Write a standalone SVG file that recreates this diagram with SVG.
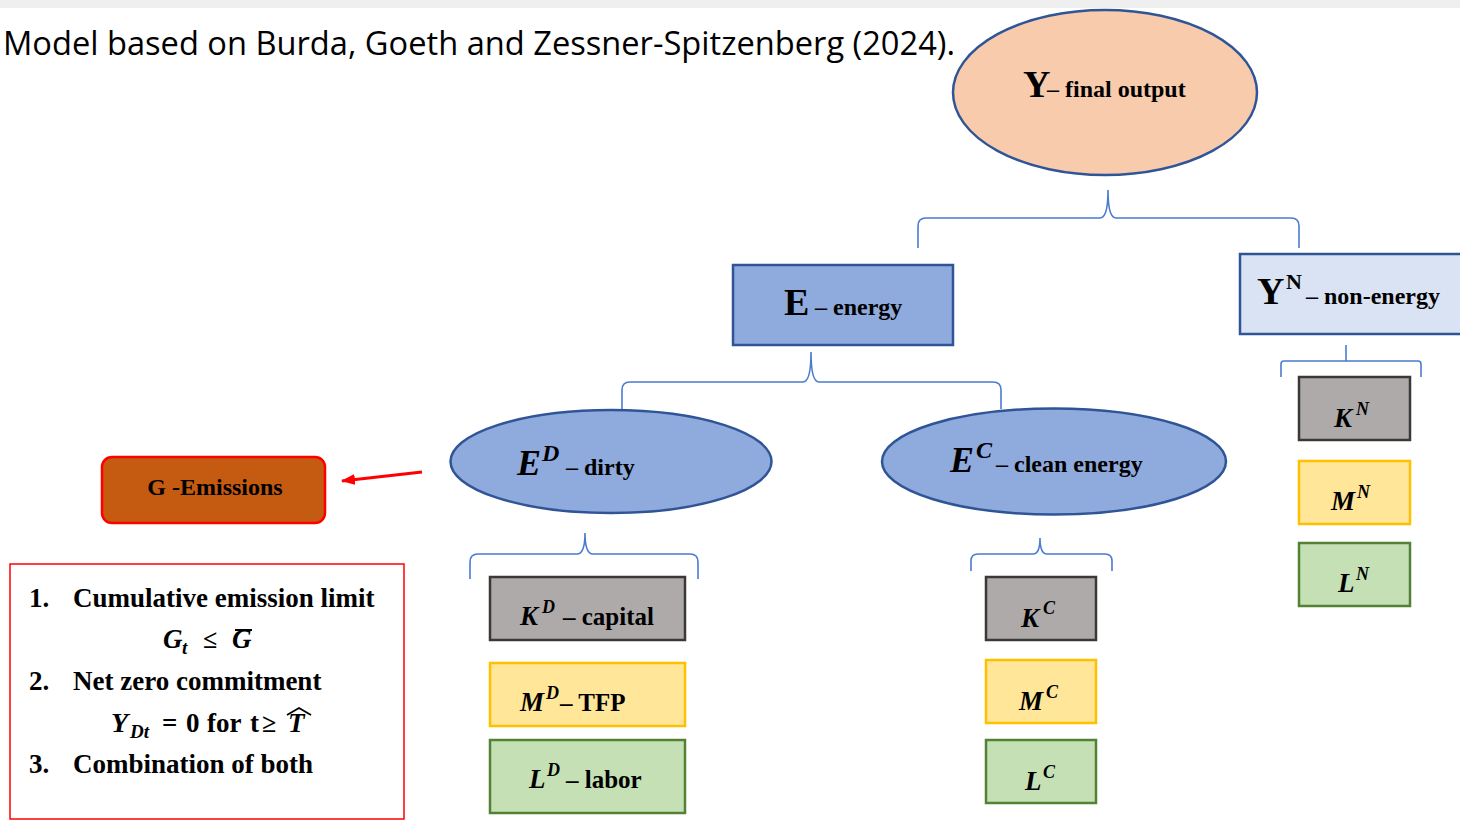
<svg xmlns="http://www.w3.org/2000/svg" width="1460" height="833" viewBox="0 0 1460 833">
<defs>
<style>
.t{font-family:"Liberation Serif","Times New Roman",serif;font-weight:bold;fill:#000}
.i{font-style:italic}
.brace{fill:none;stroke:#4a7bd0;stroke-width:1.6}
.blue{stroke:#2f5597;stroke-width:2.5}
.k{fill:#aeaaaa;stroke:#3b3838;stroke-width:2.5}
.m{fill:#ffe699;stroke:#ffc000;stroke-width:2.5}
.l{fill:#c5e0b4;stroke:#538135;stroke-width:2.5}
</style>
<marker id="ah" markerWidth="14" markerHeight="11" refX="13" refY="5.5" orient="auto" markerUnits="userSpaceOnUse">
<path d="M0,0 L14,5.5 L0,11 z" fill="#ff0000"/>
</marker>
</defs>
<rect x="0" y="0" width="1460" height="833" fill="#ffffff"/>
<rect x="0" y="0" width="1460" height="8" fill="#efefef"/>
<text x="3" y="55" font-family="Open Sans, sans-serif" font-size="32" textLength="952" lengthAdjust="spacingAndGlyphs" fill="#000">Model based on Burda, Goeth and Zessner-Spitzenberg (2024).</text>

<g id="connectors">
<path class="brace" d="M918 248 L918 226 Q918 218 926 218 L1100 218 Q1108 218 1108 190 Q1108 218 1116 218 L1291 218 Q1299 218 1299 226 L1299 248"/>
<path class="brace" d="M622 411 L622 390 Q622 382 630 382 L803 382 Q811 382 811 352 Q811 382 819 382 L993 382 Q1001 382 1001 390 L1001 409"/>
<path class="brace" d="M470 579 L470 562 Q470 554 478 554 L577 554 Q585 554 585 533 Q585 554 593 554 L690 554 Q698 554 698 562 L698 579"/>
<path class="brace" d="M971 571 L971 561 Q971 554 978 554 L1033 554 Q1040 554 1040 538 Q1040 554 1047 554 L1105 554 Q1112 554 1112 561 L1112 571"/>
<path class="brace" d="M1346 345 L1346 361 M1281 377 L1281 364 Q1281 361 1284 361 L1418 361 Q1421 361 1421 364 L1421 377"/>
<line x1="422" y1="472" x2="342" y2="481" stroke="#ff0000" stroke-width="3" marker-end="url(#ah)"/>
</g>

<g id="node-Y">
<ellipse cx="1105" cy="92.5" rx="152" ry="82.5" fill="#f8cbad" class="blue"/>
<text class="t" x="1023" y="97" font-size="38">Y</text>
<text class="t" x="1047" y="97" font-size="24">– final output</text>
</g>

<g id="node-E">
<rect x="733" y="265" width="220" height="80" fill="#8faadc" class="blue"/>
<text class="t" x="784" y="315" font-size="38">E</text>
<text class="t" x="815" y="315" font-size="24">– energy</text>
</g>

<g id="node-YN">
<rect x="1240" y="254" width="225" height="80" fill="#dae3f3" class="blue"/>
<text class="t" x="1257" y="304" font-size="38">Y</text>
<text class="t" x="1286" y="289" font-size="22">N</text>
<text class="t" x="1306" y="304" font-size="24">– non-energy</text>
</g>

<g id="node-ED">
<ellipse cx="611" cy="461.5" rx="160.5" ry="51.5" fill="#8faadc" class="blue"/>
<text class="t i" x="517" y="475" font-size="36">E</text>
<text class="t i" x="542" y="461" font-size="24">D</text>
<text class="t" x="566" y="475" font-size="24">– dirty</text>
</g>

<g id="node-EC">
<ellipse cx="1054" cy="461.5" rx="172" ry="53" fill="#8faadc" class="blue"/>
<text class="t i" x="950" y="472" font-size="36">E</text>
<text class="t i" x="976" y="458" font-size="24">C</text>
<text class="t" x="996" y="472" font-size="24">– clean energy</text>
</g>

<g id="node-G">
<rect x="102" y="457" width="223" height="66" rx="10" fill="#c55a11" stroke="#ff0000" stroke-width="2.5"/>
<text class="t" x="215" y="495" font-size="24" text-anchor="middle">G -Emissions</text>
</g>

<g id="node-constraints">
<rect x="10" y="564" width="394" height="255" fill="none" stroke="#ff0000" stroke-width="1.5"/>
<text class="t" y="607" font-size="27"><tspan x="29">1.</tspan><tspan x="73">Cumulative emission limit</tspan></text>
<text class="t i" x="163" y="648" font-size="27">G</text>
<text class="t i" x="182" y="654" font-size="19">t</text>
<text class="t" x="203" y="648" font-size="26">≤</text>
<text class="t i" x="232" y="648" font-size="27">G</text>
<line x1="235" y1="630" x2="252" y2="630" stroke="#000" stroke-width="2"/>
<text class="t" y="690" font-size="27"><tspan x="29">2.</tspan><tspan x="73">Net zero commitment</tspan></text>
<text class="t i" x="111" y="732" font-size="28">Y</text>
<text class="t i" x="130" y="738" font-size="19">Dt</text>
<text class="t" x="162" y="732" font-size="27">=</text>
<text class="t" x="186" y="732" font-size="27">0</text>
<text class="t" x="207" y="732" font-size="27">for</text>
<text class="t" x="250" y="732" font-size="27">t</text>
<text class="t" x="262" y="732" font-size="26">≥</text>
<text class="t i" x="288" y="732" font-size="27">T</text>
<polyline points="287,715 299,708 311,715" fill="none" stroke="#000" stroke-width="1.8"/>
<text class="t" y="773" font-size="27"><tspan x="29">3.</tspan><tspan x="73">Combination of both</tspan></text>
</g>

<g id="node-KD">
<rect x="490" y="577" width="195" height="63" class="k"/>
<text class="t i" x="520" y="625" font-size="27">K</text>
<text class="t i" x="542" y="613" font-size="18">D</text>
<text class="t" x="563" y="625" font-size="25">– capital</text>
</g>
<g id="node-MD">
<rect x="490" y="663" width="195" height="63" class="m"/>
<text class="t i" x="520" y="711" font-size="27">M</text>
<text class="t i" x="546" y="699" font-size="18">D</text>
<text class="t" x="560" y="711" font-size="25">– TFP</text>
</g>
<g id="node-LD">
<rect x="490" y="740" width="195" height="73" class="l"/>
<text class="t i" x="529" y="788" font-size="27">L</text>
<text class="t i" x="547" y="776" font-size="18">D</text>
<text class="t" x="566" y="788" font-size="25">– labor</text>
</g>

<g id="node-KC">
<rect x="986" y="577" width="110" height="63" class="k"/>
<text class="t i" x="1021" y="627" font-size="27">K</text>
<text class="t i" x="1043" y="614" font-size="18">C</text>
</g>
<g id="node-MC">
<rect x="986" y="660" width="110" height="63" class="m"/>
<text class="t i" x="1019" y="710" font-size="27">M</text>
<text class="t i" x="1046" y="698" font-size="18">C</text>
</g>
<g id="node-LC">
<rect x="986" y="740" width="110" height="63" class="l"/>
<text class="t i" x="1025" y="790" font-size="27">L</text>
<text class="t i" x="1043" y="778" font-size="18">C</text>
</g>

<g id="node-KN">
<rect x="1299" y="377" width="111" height="63" class="k"/>
<text class="t i" x="1334" y="427" font-size="27">K</text>
<text class="t i" x="1356" y="415" font-size="18">N</text>
</g>
<g id="node-MN">
<rect x="1299" y="461" width="111" height="63" class="m"/>
<text class="t i" x="1331" y="510" font-size="27">M</text>
<text class="t i" x="1357" y="498" font-size="18">N</text>
</g>
<g id="node-LN">
<rect x="1299" y="543" width="111" height="63" class="l"/>
<text class="t i" x="1338" y="592" font-size="27">L</text>
<text class="t i" x="1356" y="580" font-size="18">N</text>
</g>
</svg>
